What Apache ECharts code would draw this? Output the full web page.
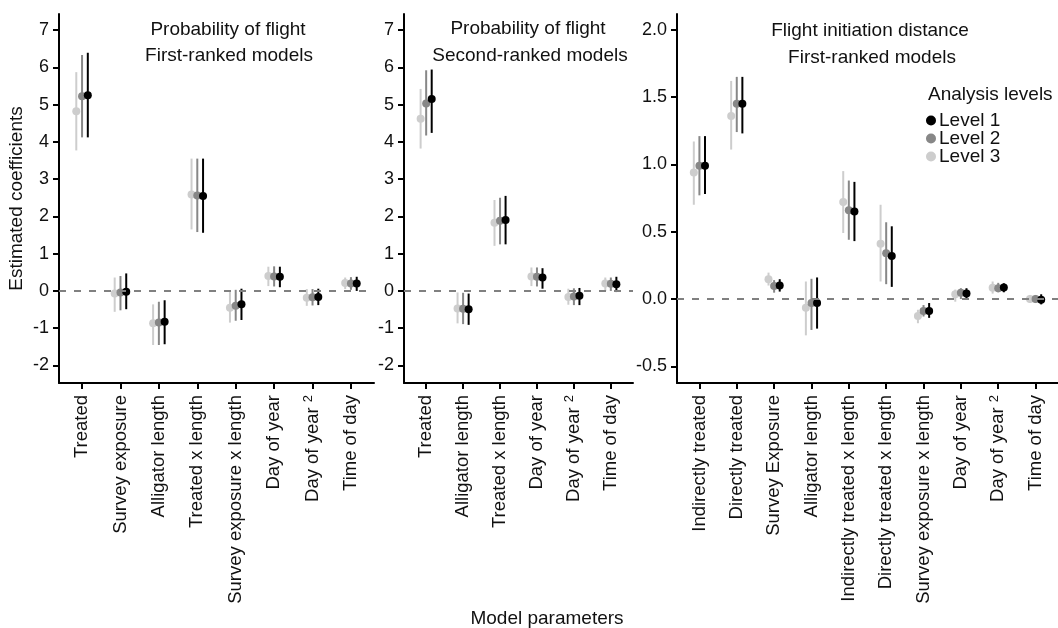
<!DOCTYPE html>
<html>
<head>
<meta charset="utf-8">
<script src="https://cdn.jsdelivr.net/npm/echarts@6.0.0/dist/echarts.min.js"></script>
<style>
  html, body { margin: 0; padding: 0; background: #fff; }
  #chart { width: 1058px; height: 628px; }
</style>
</head>
<body>
<div id="chart"></div>
<script>
// probability of flight - first-ranked models
const pfFirstParams = ['Treated', 'Survey exposure', 'Alligator length', 'Treated x length', 'Survey exposure x length', 'Day of year', 'Day of year²', 'Time of day']
const pfFirstL1 = [5.25, -0.02, -0.83, 2.55, -0.36, 0.38, -0.16, 0.20]
const pfFirstL1Lo = [4.12, -0.49, -1.43, 1.56, -0.78, 0.10, -0.38, 0.00]
const pfFirstL1Hi = [6.39, 0.47, -0.25, 3.55, 0.06, 0.65, 0.06, 0.38]
const pfFirstL2 = [5.22, -0.04, -0.85, 2.56, -0.40, 0.39, -0.17, 0.20]
const pfFirstL2Lo = [4.12, -0.52, -1.45, 1.58, -0.80, 0.12, -0.39, 0.03]
const pfFirstL2Hi = [6.33, 0.40, -0.29, 3.55, 0.03, 0.66, 0.05, 0.37]
const pfFirstL3 = [4.82, -0.07, -0.87, 2.59, -0.45, 0.40, -0.18, 0.21]
const pfFirstL3Lo = [3.77, -0.56, -1.45, 1.65, -0.85, 0.13, -0.40, 0.05]
const pfFirstL3Hi = [5.87, 0.36, -0.36, 3.55, -0.03, 0.65, 0.05, 0.36]

// probability of flight - second-ranked models
const pfSecondParams = ['Treated', 'Alligator length', 'Treated x length', 'Day of year', 'Day of year²', 'Time of day']
const pfSecondL1 = [5.15, -0.49, 1.90, 0.36, -0.13, 0.18]
const pfSecondL1Lo = [4.24, -0.91, 1.25, 0.06, -0.38, -0.03]
const pfSecondL1Hi = [5.94, -0.07, 2.55, 0.61, 0.08, 0.38]
const pfSecondL2 = [5.03, -0.48, 1.88, 0.38, -0.15, 0.19]
const pfSecondL2Lo = [4.17, -0.89, 1.25, 0.12, -0.38, 0.00]
const pfSecondL2Hi = [5.92, -0.05, 2.50, 0.63, 0.07, 0.36]
const pfSecondL3 = [4.62, -0.47, 1.83, 0.39, -0.16, 0.20]
const pfSecondL3Lo = [3.82, -0.87, 1.21, 0.13, -0.37, 0.00]
const pfSecondL3Hi = [5.42, -0.04, 2.44, 0.63, 0.06, 0.36]

// flight initiation distance - first-ranked models
const fidParams = ['Indirectly treated', 'Directly treated', 'Survey Exposure', 'Alligator length', 'Indirectly treated x length', 'Directly treated x length', 'Survey exposure x length', 'Day of year', 'Day of year²', 'Time of day']
const fidL1 = [0.99, 1.45, 0.10, -0.03, 0.65, 0.32, -0.09, 0.04, 0.085, -0.005]
const fidL1Lo = [0.78, 1.23, 0.055, -0.22, 0.43, 0.09, -0.14, 0.005, 0.05, -0.04]
const fidL1Hi = [1.21, 1.65, 0.147, 0.16, 0.87, 0.54, -0.03, 0.08, 0.117, 0.035]
const fidL2 = [0.99, 1.45, 0.097, -0.03, 0.66, 0.34, -0.09, 0.047, 0.08, 0.0]
const fidL2Lo = [0.77, 1.24, 0.047, -0.23, 0.44, 0.11, -0.13, 0.0, 0.05, -0.03]
const fidL2Hi = [1.21, 1.65, 0.14, 0.15, 0.88, 0.57, -0.045, 0.08, 0.12, 0.03]
const fidL3 = [0.94, 1.36, 0.147, -0.065, 0.72, 0.41, -0.127, 0.035, 0.084, 0.0]
const fidL3Lo = [0.70, 1.11, 0.10, -0.27, 0.49, 0.13, -0.18, -0.02, 0.04, -0.027]
const fidL3Hi = [1.17, 1.62, 0.196, 0.13, 0.95, 0.70, -0.08, 0.07, 0.13, 0.03]

const pfTicks = [-2, -1, 0, 1, 2, 3, 4, 5, 6, 7]
const fidTicks = [-0.5, 0.0, 0.5, 1.0, 1.5, 2.0]

const levels = ['Level 1', 'Level 2', 'Level 3']
const levelColors = ['#000000', '#878787', '#cdcdcd']
const dodge = [0.15, 0, -0.15] // position_dodge, in category units

const font = 'Liberation Sans, Arial, sans-serif'

const panels = [
  { params: pfFirstParams, est: [pfFirstL1, pfFirstL2, pfFirstL3], lo: [pfFirstL1Lo, pfFirstL2Lo, pfFirstL3Lo], hi: [pfFirstL1Hi, pfFirstL2Hi, pfFirstL3Hi] },
  { params: pfSecondParams, est: [pfSecondL1, pfSecondL2, pfSecondL3], lo: [pfSecondL1Lo, pfSecondL2Lo, pfSecondL3Lo], hi: [pfSecondL1Hi, pfSecondL2Hi, pfSecondL3Hi] },
  { params: fidParams, est: [fidL1, fidL2, fidL3], lo: [fidL1Lo, fidL2Lo, fidL3Lo], hi: [fidL1Hi, fidL2Hi, fidL3Hi] }
]

function errorBar (params, api) {
  const top = api.coord([api.value(0), api.value(2)])
  const bottom = api.coord([api.value(0), api.value(1)])
  return {
    type: 'line',
    shape: { x1: top[0], y1: top[1], x2: bottom[0], y2: bottom[1] },
    style: { stroke: api.visual('color'), lineWidth: 2 }
  }
}

function xAxisFor (gridIndex, names) {
  const idx = names.map((n, i) => i)
  return {
    type: 'value',
    gridIndex: gridIndex,
    min: -0.6,
    max: names.length - 0.4,
    splitLine: { show: false },
    axisLine: { onZero: false, lineStyle: { color: '#000', width: 2 } },
    axisTick: { customValues: idx, length: 6, lineStyle: { color: '#000', width: 2 } },
    axisLabel: {
      customValues: idx,
      rotate: 90,
      margin: 12,
      color: '#111',
      fontSize: 18.5,
      fontFamily: font,
      formatter: function (v) {
        const name = names[Math.round(v)]
        return name.indexOf('²') >= 0 ? name.replace('²', ' {s|2}') : name
      },
      rich: { s: { fontSize: 13, fontFamily: font, color: '#111', verticalAlign: 'top', padding: [0, 0, 8, 0] } }
    }
  }
}

function yAxisFor (gridIndex, min, max, ticks, digits) {
  return {
    type: 'value',
    gridIndex: gridIndex,
    min: min,
    max: max,
    splitLine: { show: false },
    axisLine: { onZero: false, lineStyle: { color: '#000', width: 2 } },
    axisTick: { customValues: ticks, length: 6, lineStyle: { color: '#000', width: 2 } },
    axisLabel: {
      customValues: ticks,
      margin: 10,
      color: '#111',
      fontSize: 18,
      fontFamily: font,
      formatter: v => v.toFixed(digits)
    }
  }
}

const series = []
panels.forEach(function (p, g) {
  // draw level 3 first so level 1 ends up on top
  for (let k = 2; k >= 0; k--) {
    const bars = []
    const pts = []
    for (let i = 0; i < p.params.length; i++) {
      bars.push([i + dodge[k], p.lo[k][i], p.hi[k][i]])
      pts.push([i + dodge[k], p.est[k][i]])
    }
    const barSeries = {
      type: 'custom',
      name: levels[k],
      xAxisIndex: g,
      yAxisIndex: g,
      renderItem: errorBar,
      encode: { x: 0, y: [1, 2] },
      itemStyle: { color: levelColors[k] },
      silent: true,
      data: bars
    }
    if (k === 2) {
      barSeries.markLine = {
        silent: true,
        symbol: ['none', 'none'],
        label: { show: false },
        lineStyle: { color: '#808080', width: 2, type: [7, 8] },
        data: [{ yAxis: 0 }]
      }
    }
    series.push(barSeries)
    series.push({
      type: 'scatter',
      name: levels[k],
      xAxisIndex: g,
      yAxisIndex: g,
      symbol: 'circle',
      symbolSize: 8,
      itemStyle: { color: levelColors[k], opacity: 1 },
      silent: true,
      data: pts
    })
  }
})

function label (text, x, y, align) {
  return {
    type: 'text',
    x: x,
    y: y,
    style: { text: text, fontSize: 19, fontFamily: font, fill: '#111', align: align || 'center', verticalAlign: 'middle' }
  }
}

const chart = echarts.init(document.getElementById('chart'), null, { renderer: 'canvas' })
const option = {
  animation: false,
  backgroundColor: '#fff',
  grid: [
    { left: 59, top: 14, width: 315, height: 369 },
    { left: 404, top: 14, width: 229, height: 369 },
    { left: 677, top: 14, width: 385, height: 369 }
  ],
  xAxis: [
    xAxisFor(0, pfFirstParams),
    xAxisFor(1, pfSecondParams),
    xAxisFor(2, fidParams)
  ],
  yAxis: [
    Object.assign(yAxisFor(0, -2.47, 7.43, pfTicks, 0), {
      name: 'Estimated coefficients',
      nameLocation: 'middle',
      nameGap: 33,
      nameTextStyle: { fontSize: 19, fontFamily: font, color: '#111' }
    }),
    yAxisFor(1, -2.47, 7.43, pfTicks, 0),
    yAxisFor(2, -0.624, 2.117, fidTicks, 1)
  ],
  legend: {
    data: levels,
    orient: 'vertical',
    left: 926,
    top: 111,
    icon: 'circle',
    itemWidth: 10,
    itemHeight: 10,
    itemGap: -1,
    padding: 0,
    textStyle: { fontSize: 19, fontFamily: font, color: '#111', padding: [0, 0, 0, -2] }
  },
  graphic: [
    label('Probability of flight', 228, 30),
    label('First-ranked models', 229, 56),
    label('Probability of flight', 528, 29),
    label('Second-ranked models', 530, 56),
    label('Flight initiation distance', 870, 31),
    label('First-ranked models', 872, 58),
    label('Analysis levels', 928, 95, 'left'),
    label('Model parameters', 547, 619)
  ],
  series: series
}
chart.setOption(option)
</script>
</body>
</html>
